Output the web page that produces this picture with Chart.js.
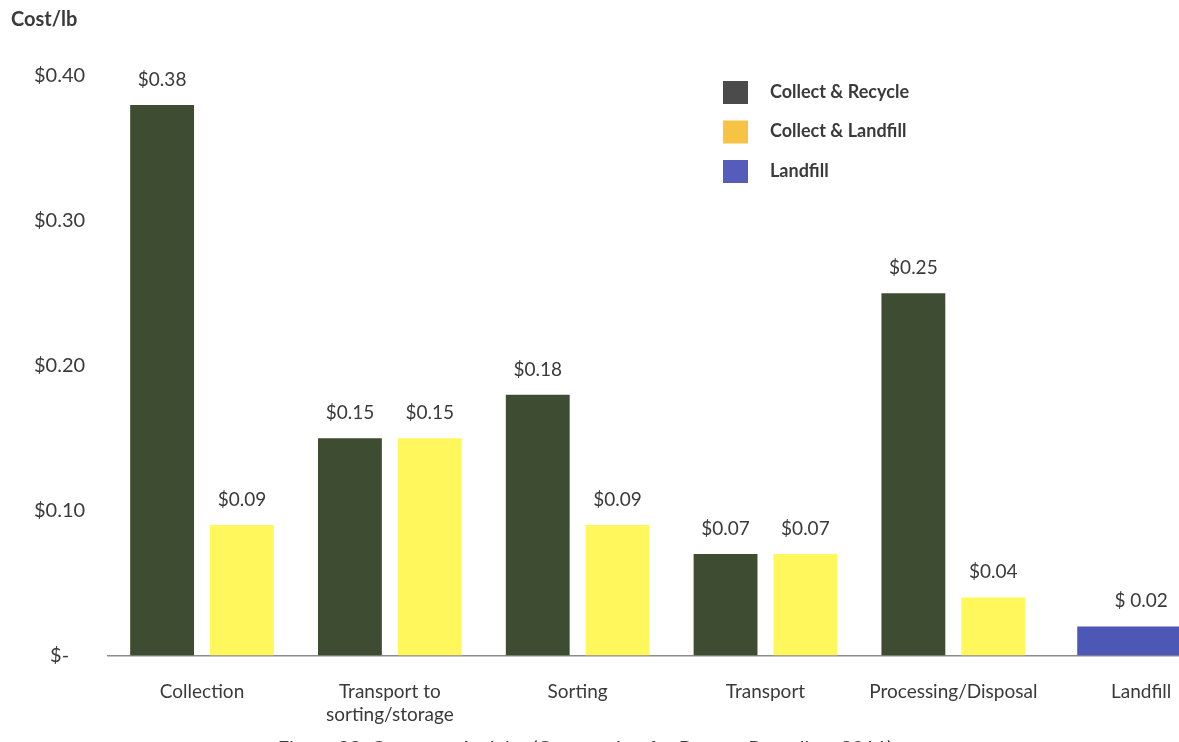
<!DOCTYPE html>
<html>
    <head>
        <title>Cost per Activity</title>
        <style>
            html, body
            {
                margin: 0;
                padding: 0;
                overflow: hidden;
                background: #ffffff;
            }

            #chartWrapper
            {
                width: 1179px;
                height: 742px;
                overflow: hidden;
            }
        </style>
        <script src="https://cdn.jsdelivr.net/npm/chart.js"></script>
    </head>
    <body>
        <div id="chartWrapper">
            <canvas id="barChart" width="1240" height="770"></canvas>
        </div>
        <script>
            // activities along the x axis
            const activities = ["Collection", ["Transport to", "sorting/storage"], "Sorting", "Transport", "Processing/Disposal", "Landfill"];

            // cost per pound for each scenario
            const seriesNames = ["Collect & Recycle", "Collect & Landfill", "Landfill"];
            const collectRecycle = [0.38, 0.15, 0.18, 0.07, 0.25, null];
            const collectLandfill = [0.09, 0.15, 0.09, 0.07, 0.04, null];
            const landfillOnly = [null, null, null, null, null, 0.02];

            const yTicks = [0, 0.1, 0.2, 0.3, 0.4];

            const barColors = ["#3e4c31", "#fff75c", "#4d57b6"];
            const legendColors = ["#4b4b4b", "#f6c344", "#555dba"];
            const labelPrefix = ["$", "$", "$ "];

            const FONT = "Lato, 'Open Sans', sans-serif";
            const TEXT = "#3a3a3a";

            const money = v => v === 0 ? "$-" : "$" + v.toFixed(2);

            // value labels, legend, axis title and caption
            const extras = {
                id: "extras",
                afterDatasetsDraw(chart) {
                    const ctx = chart.ctx;
                    ctx.save();
                    ctx.fillStyle = TEXT;
                    ctx.font = "19px " + FONT;
                    ctx.textAlign = "center";
                    ctx.textBaseline = "alphabetic";
                    chart.data.datasets.forEach((ds, i) => {
                        chart.getDatasetMeta(i).data.forEach((bar, j) => {
                            const v = ds.data[j];
                            if (v === null) return;
                            ctx.fillText(labelPrefix[i] + v.toFixed(2), bar.x, bar.y - 19);
                        });
                    });
                    ctx.restore();
                },
                afterDraw(chart) {
                    const ctx = chart.ctx;
                    ctx.save();
                    ctx.fillStyle = TEXT;
                    ctx.textBaseline = "middle";

                    ctx.font = "bold 20px " + FONT;
                    ctx.textAlign = "left";
                    ctx.fillText("Cost/lb", 11, 20);

                    ctx.font = "bold 18px " + FONT;
                    seriesNames.forEach((name, i) => {
                        const y = 92 + i * 39.5;
                        ctx.fillStyle = legendColors[i];
                        ctx.fillRect(723, y - 11, 25, 23);
                        ctx.fillStyle = TEXT;
                        ctx.fillText(name, 770, y);
                    });

                    ctx.font = "20px " + FONT;
                    ctx.textAlign = "center";
                    ctx.fillText("Figure 22: Costs per Activity (Corporation for Battery Recycling, 2011)", 585, 749);
                    ctx.restore();
                }
            };

            const datasets = [collectRecycle, collectLandfill, landfillOnly].map((values, i) => ({
                label: seriesNames[i],
                data: values,
                backgroundColor: barColors[i],
                borderWidth: 0,
                skipNull: true,
                categoryPercentage: 0.85,
                barPercentage: 0.8
            }));

            new Chart(document.getElementById("barChart"), {
                type: "bar",
                data: {
                    labels: activities,
                    datasets: datasets
                },
                options: {
                    responsive: false,
                    animation: false,
                    layout: {
                        padding: {top: 76, left: 11, right: 5, bottom: 19}
                    },
                    plugins: {
                        legend: {display: false},
                        tooltip: {enabled: false}
                    },
                    scales: {
                        x: {
                            grid: {display: false, drawTicks: false},
                            border: {display: true, color: "#8c8c8c", width: 1.5},
                            ticks: {
                                color: TEXT,
                                padding: 25,
                                font: {family: FONT, size: 19}
                            }
                        },
                        y: {
                            min: 0,
                            max: 0.4,
                            grid: {display: false, drawTicks: false},
                            border: {display: false},
                            afterBuildTicks: axis => {
                                axis.ticks = yTicks.map(v => ({value: v}));
                            },
                            ticks: {
                                color: TEXT,
                                padding: 23,
                                crossAlign: "center",
                                font: {family: FONT, size: 20},
                                callback: v => money(v)
                            }
                        }
                    }
                },
                plugins: [extras]
            });
        </script>
    </body>
</html>
